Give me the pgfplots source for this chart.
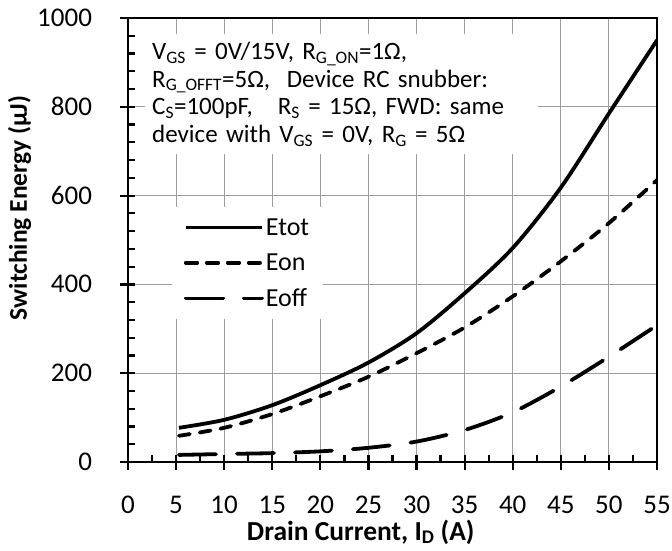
\documentclass[border=0pt]{standalone}
\usepackage{fontspec}
\setmainfont{Carlito}
\usepackage{pgfplots}
\pgfplotsset{compat=1.18}
\begin{document}
\begin{tikzpicture}
\begin{axis}[
 at={(0pt,0pt)}, anchor=south west,
 width=529pt, height=444pt, scale only axis,
 xmin=0, xmax=55, ymin=0, ymax=1000,
 xtick={0,5,...,55}, ytick={0,200,...,1000},
 minor x tick num=1, minor y tick num=4,
 grid=major, major grid style={black!38, line width=0.9pt},
 axis line style={line width=2.8pt},
 tick style={black, line width=2.2pt},
 tick align=center, major tick length=15pt, minor tick length=7pt,
 minor x tick style={yshift=3.5pt}, minor y tick style={xshift=3.5pt},
 xtick pos=bottom, ytick pos=left,
 /pgf/number format/assume math mode=true,
 /pgf/number format/1000 sep={},
 tick label style={font=\fontsize{27}{28}\selectfont},
 xticklabel style={anchor=base, yshift=-44pt},
 yticklabel style={anchor=base east, xshift=-25pt, yshift=-8.5pt},
 xlabel={\textbf{Drain Current, I\textsubscript{D} (A)}},
 ylabel={\textbf{Switching Energy (μJ)}},
 xlabel style={font=\fontsize{27.5}{28}\selectfont, at={([yshift=-78pt]axis description cs:0.44,0)}, anchor=base},
 ylabel style={font=\fontsize{25.5}{28}\selectfont, at={([xshift=-101pt]axis description cs:0,0.572)}, anchor=base},
 legend style={at={(0.083,0.574)}, anchor=north west, draw=none, fill=white,
   font=\fontsize{26}{28}\selectfont, row sep=13pt, inner xsep=12pt, inner ysep=9pt},
 legend cell align=left,
 legend image code/.code={\draw[#1] (0pt,0pt) -- (70pt,0pt); \path (0pt,0pt) -- (76pt,0pt);},
]
\addplot[black, line width=3.8pt, smooth] coordinates {
 (5.3,77) (10,95) (15,128) (20,173) (25,224) (30,290) (35,380) (40,482) (45,618) (50,785) (55,950)};
\addlegendentry{Etot}
\addplot[black, line width=3.8pt, smooth, line cap=round, dash pattern=on 11pt off 10pt] coordinates {
 (5.3,59) (10,77) (15,108) (20,148) (25,192) (30,245) (35,303) (40,373) (45,452) (50,538) (55,635)};
\addlegendentry{Eon}
\addplot[black, line width=3.8pt, smooth, line cap=round, dash pattern=on 37pt off 21pt] coordinates {
 (5.3,16) (10,18) (15,20) (20,24) (25,32) (30,46) (35,72) (40,112) (45,170) (50,237) (55,308)};
\addlegendentry{Eoff}
\node[fill=white, anchor=north west, align=left, inner xsep=7pt, inner ysep=8pt,
  text width=379pt, font=\fontsize{25}{27.7}\selectfont] at (axis cs:1.77,964) {%
 V\textsubscript{GS} = 0V/15V, R\textsubscript{G\_ON}=1Ω,\\
 R\textsubscript{G\_OFFT}=5Ω,\ \ Device RC snubber:\\
 C\textsubscript{S}=100pF,\ \ \ R\textsubscript{S} = 15Ω, FWD: same\\
 device with V\textsubscript{GS} = 0V, R\textsubscript{G} = 5Ω};
\end{axis}
\pgfresetboundingbox
\path (-128pt,-88pt) rectangle (544pt,462pt);
\end{tikzpicture}
\end{document}
